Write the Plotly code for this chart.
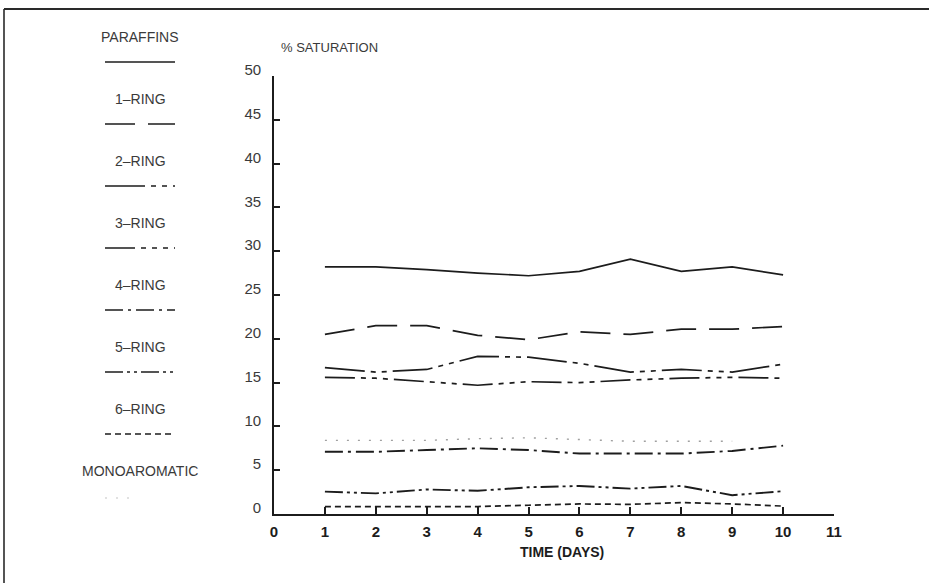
import plotly.graph_objects as go

# ---- data: % saturation versus time ----
days = [1, 2, 3, 4, 5, 6, 7, 8, 9, 10]
paraffins = [28.2, 28.2, 27.9, 27.5, 27.2, 27.7, 29.1, 27.7, 28.2, 27.3]
ring1 = [20.5, 21.5, 21.5, 20.4, 19.9, 20.8, 20.5, 21.1, 21.1, 21.4]
ring2 = [16.7, 16.2, 16.5, 18.0, 17.9, 17.2, 16.2, 16.5, 16.2, 17.1]
ring3 = [15.6, 15.5, 15.1, 14.7, 15.1, 15.0, 15.3, 15.5, 15.6, 15.5]
ring4 = [7.1, 7.1, 7.3, 7.5, 7.3, 6.9, 6.9, 6.9, 7.2, 7.8]
ring5 = [2.55, 2.35, 2.8, 2.65, 3.05, 3.2, 2.9, 3.2, 2.15, 2.6]
ring6 = [0.85, 0.85, 0.9, 0.85, 1.0, 1.15, 1.1, 1.3, 1.15, 0.9]
mono_days = [1, 2, 3, 4, 5, 6, 7, 8, 9]
monoaromatic = [8.4, 8.4, 8.4, 8.6, 8.7, 8.5, 8.3, 8.3, 8.3]

x_ticks = list(range(0, 12))
y_ticks = list(range(0, 55, 5))

INK = "#1c1c1c"
TXT = "#3a3a3a"
FONT = "Liberation Sans, Arial, sans-serif"
NARROW = "Liberation Sans Narrow, Arial Narrow, Liberation Sans, sans-serif"

series = [
    ("PARAFFINS", days, paraffins, "solid", INK, 1.7),
    ("1–RING", days, ring1, "30px,13px", INK, 1.7),
    ("2–RING", days, ring2, "40px,6px,5px,6px,5px,6px", INK, 1.7),
    ("3–RING", days, ring3, "30px,6px,5px,6px,5px,6px,5px,6px", INK, 1.7),
    ("4–RING", days, ring4, "18px,5px,3px,5px", INK, 1.9),
    ("5–RING", days, ring5, "18px,4px,3px,4px,3px,4px", INK, 1.9),
    ("6–RING", days, ring6, "6px,4px", INK, 1.7),
    ("MONOAROMATIC", mono_days, monoaromatic, "2px,9px", "#a0a0a0", 1.4),
]

W, H = 929, 583
L, R, T, B = 274, 95, 76, 69
PW, PH = W - L - R, H - T - B


def px(x):
    return (x - L) / PW


def py(y):
    return (H - B - y) / PH


fig = go.Figure()
for name, xs, ys, dash, color, width in series:
    fig.add_trace(go.Scatter(
        x=xs, y=ys, mode="lines", name=name,
        line=dict(color=color, width=width, dash=dash),
        showlegend=False,
    ))

shapes = []
annotations = []

# key on the left: label above a short sample of each line style
key_x0, key_x1, key_cx = 105, 175, 140
for i, (name, xs, ys, dash, color, width) in enumerate(series):
    ty = 37 + i * 62
    ly = ty + 25 + (2 if i == len(series) - 1 else 0)
    annotations.append(dict(
        x=px(key_cx), y=py(ty), xref="paper", yref="paper", text=name,
        showarrow=False, xanchor="center", yanchor="middle",
        font=dict(family=FONT, size=14, color=TXT),
    ))
    last = i == len(series) - 1
    shapes.append(dict(
        type="line", xref="paper", yref="paper",
        x0=px(key_x0), x1=px(130 if last else key_x1), y0=py(ly), y1=py(ly),
        line=dict(color="#c4c4c4" if last else color,
                  width=1.2 if last else 1.4, dash=dash),
    ))

# outer frame (top and left edges)
shapes.append(dict(type="line", xref="paper", yref="paper",
                   x0=px(4), x1=px(929), y0=py(9), y1=py(9),
                   line=dict(color="#2a2a2a", width=2.2)))
shapes.append(dict(type="line", xref="paper", yref="paper",
                   x0=px(4), x1=px(4), y0=py(9), y1=py(583),
                   line=dict(color="#2a2a2a", width=1.6)))

annotations.append(dict(
    x=px(279), y=py(48), xref="paper", yref="paper", text="% SATURATION",
    showarrow=False, xanchor="left", yanchor="middle",
    font=dict(family=FONT, size=13, color=TXT),
))
annotations.append(dict(
    x=px(562), y=py(552), xref="paper", yref="paper", text="<b>TIME (DAYS)</b>",
    showarrow=False, xanchor="center", yanchor="middle",
    font=dict(family=NARROW, size=14, color=INK),
))

fig.update_layout(
    width=W, height=H,
    margin=dict(l=L, r=R, t=T, b=B, pad=0),
    paper_bgcolor="white", plot_bgcolor="white",
    shapes=shapes, annotations=annotations,
    xaxis=dict(
        range=[0, 11], tickvals=x_ticks, ticktext=[f"<b>{v}</b>" for v in x_ticks],
        ticks="inside", ticklen=7, tickwidth=1.5, tickcolor=INK,
        showline=True, linecolor=INK, linewidth=1.6, mirror=False,
        showgrid=False, zeroline=False, ticklabelstandoff=3,
        tickfont=dict(family=NARROW, size=15, color=INK),
    ),
    yaxis=dict(
        range=[0, 50], tickvals=y_ticks,
        ticks="inside", ticklen=6, tickwidth=1.5, tickcolor=INK,
        showline=True, linecolor=INK, linewidth=1.6, mirror=False,
        showgrid=False, zeroline=False, ticklabelstandoff=8, ticklabelshift=-6,
        tickfont=dict(family=FONT, size=15, color=TXT),
    ),
)

fig.write_html("out.html")
